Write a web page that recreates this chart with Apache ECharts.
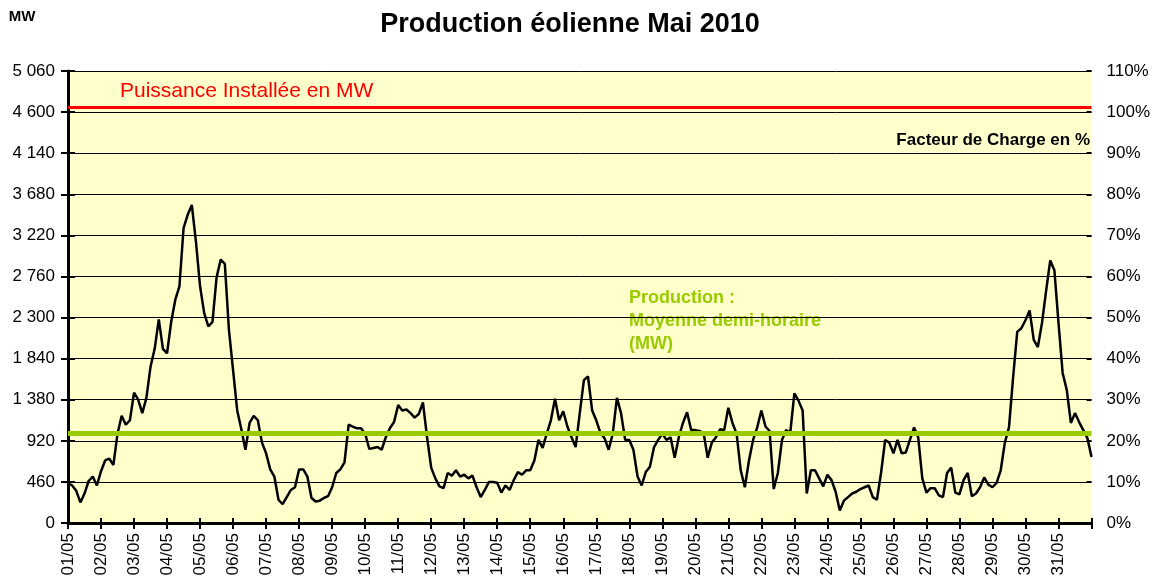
<!DOCTYPE html>
<html>
<head>
<meta charset="utf-8">
<script src="https://cdn.jsdelivr.net/npm/echarts@6/dist/echarts.min.js"></script>
<style>
  html, body { margin: 0; padding: 0; background: #fff; }
  #chart { width: 1153px; height: 586px; }
</style>
</head>
<body>
<div id="chart"></div>
<script>
// day labels on the x axis (one per day of May 2010)
var dayLabels = [];
for (var d = 1; d <= 31; d++) {
  dayLabels.push((d < 10 ? '0' + d : '' + d) + '/05');
}

// production, one value every 3 hours (MW)
var production = [
  448, 420, 360, 230, 330, 470, 520, 420,
  580, 700, 720, 650, 1000, 1200, 1100, 1150,
  1460, 1380, 1230, 1400, 1750, 1950, 2280, 1950,
  1900, 2250, 2500, 2650, 3300, 3450, 3560, 3150,
  2650, 2350, 2200, 2250, 2750, 2950, 2900, 2160,
  1710, 1260, 1050, 820, 1120, 1200, 1150, 900,
  780, 600, 520, 260, 210, 290, 370, 400,
  600, 600, 520, 280, 240, 250, 280, 300,
  400, 560, 600, 680, 1100, 1080, 1060, 1060,
  1000, 830, 840, 850, 820, 960, 1060, 1130,
  1320, 1260, 1270, 1230, 1180, 1220, 1350, 960,
  620, 500, 410, 390, 560, 530, 590, 520,
  540, 500, 530, 400, 290, 370, 460, 460,
  450, 340, 420, 370, 480, 570, 540, 590,
  590, 700, 930, 840, 1000, 1150, 1390, 1150,
  1250, 1080, 960, 850, 1230, 1600, 1640, 1260,
  1150, 1010, 950, 820, 1000, 1400, 1230, 930,
  930, 820, 520, 420, 570, 630, 850, 930,
  1000, 930, 960, 730, 960, 1120, 1240, 1040,
  1040, 1030, 1010, 730, 900, 960, 1050, 1040,
  1290, 1120, 1000, 590, 400, 700, 930, 1070,
  1260, 1080, 1030, 380, 560, 930, 1040, 1010,
  1450, 1370, 1260, 330, 590, 590, 500, 410,
  540, 480, 350, 140, 250, 290, 330, 350,
  380, 400, 420, 290, 260, 560, 930, 900,
  780, 930, 780, 790, 930, 1070, 960, 500,
  340, 390, 390, 310, 290, 560, 620, 340,
  320, 480, 560, 300, 330, 400, 510, 430,
  400, 450, 590, 900, 1070, 1630, 2140, 2180,
  2270, 2380, 2050, 1970, 2240, 2600, 2940, 2830,
  2240, 1680, 1490, 1120, 1230, 1130, 1040, 950, 740
];
var stepsPerDay = 8;

var installedMW = 4650;   // red line
var averageMW = 1000;     // green line

var mwTicks = { min: 0, max: 5060, interval: 460 };
var pctTicks = { min: 0, max: 110, interval: 10 };

var font = 'Liberation Sans, Arial, sans-serif';

function fmtMW(v) {
  var s = String(v);
  if (s.length > 3) s = s.slice(0, s.length - 3) + ' ' + s.slice(s.length - 3);
  return s;
}

var points = production.map(function (v, i) { return [i / stepsPerDay, v]; });

var chart = echarts.init(document.getElementById('chart'));

var option = {
  backgroundColor: '#ffffff',
  animation: false,
  grid: {
    left: 68, right: 61, top: 71, bottom: 63,
    show: true, backgroundColor: '#FFFFCC', borderWidth: 0
  },
  xAxis: [{
    type: 'value', min: 0, max: 31, interval: 1,
    axisLine: { lineStyle: { color: '#000', width: 3 } },
    axisTick: { inside: false, length: 6, lineStyle: { color: '#000', width: 2 } },
    splitLine: { show: false },
    axisLabel: {
      rotate: 90, color: '#000', fontSize: 17, fontFamily: font, margin: 10,
      formatter: function (v) { return v < 31 ? dayLabels[v] : ''; }
    }
  }, {
    type: 'value', min: 0, max: 31, interval: 1, position: 'bottom',
    axisLine: { show: false },
    axisTick: { inside: true, length: 5, lineStyle: { color: '#000', width: 2 } },
    splitLine: { show: false }, axisLabel: { show: false }
  }],
  yAxis: [{
    type: 'value', min: mwTicks.min, max: mwTicks.max, interval: mwTicks.interval,
    position: 'left',
    axisLine: { show: true, lineStyle: { color: '#000', width: 3 } },
    axisTick: { show: true, inside: false, length: 7, lineStyle: { color: '#000', width: 2 } },
    splitLine: { show: true, lineStyle: { color: '#000', width: 1 } },
    axisLabel: { color: '#000', fontSize: 17, fontFamily: font, margin: 13, formatter: fmtMW }
  }, {
    type: 'value', min: pctTicks.min, max: pctTicks.max, interval: pctTicks.interval,
    position: 'right',
    axisLine: { show: true, lineStyle: { color: '#000', width: 2 } },
    axisTick: { show: true, inside: false, length: 7, lineStyle: { color: '#000', width: 2 } },
    splitLine: { show: false },
    axisLabel: { color: '#000', fontSize: 17, fontFamily: font, margin: 15, formatter: '{value}%' }
  }, {
    type: 'value', min: mwTicks.min, max: mwTicks.max, interval: mwTicks.interval,
    position: 'left', axisLine: { show: false },
    axisTick: { show: true, inside: true, length: 5, lineStyle: { color: '#000', width: 2 } },
    splitLine: { show: false }, axisLabel: { show: false }
  }, {
    type: 'value', min: pctTicks.min, max: pctTicks.max, interval: pctTicks.interval,
    position: 'right', axisLine: { show: false },
    axisTick: { show: true, inside: true, length: 5, lineStyle: { color: '#000', width: 2 } },
    splitLine: { show: false }, axisLabel: { show: false }
  }],
  series: [{
    name: 'Production',
    type: 'line',
    xAxisIndex: 0, yAxisIndex: 0,
    data: points,
    showSymbol: false,
    lineStyle: { color: '#000', width: 2.5 },
    markLine: {
      symbol: 'none', silent: true, label: { show: false },
      data: [
        { yAxis: installedMW, lineStyle: { color: '#FF0000', width: 3, type: 'solid' } },
        { yAxis: averageMW, lineStyle: { color: '#99CC00', width: 5, type: 'solid' } }
      ]
    }
  }],
  graphic: [
    { type: 'text', x: 570, y: 25,
      style: { text: 'Production éolienne Mai 2010', fontSize: 27, fontWeight: 'bold', fontFamily: font, fill: '#000',
               textAlign: 'center', textVerticalAlign: 'middle' } },
    { type: 'text', x: 22, y: 17,
      style: { text: 'MW', fontSize: 15, fontWeight: 'bold', fontFamily: font, fill: '#000',
               textAlign: 'center', textVerticalAlign: 'middle' } },
    { type: 'text', x: 120, y: 91,
      style: { text: 'Puissance Installée en MW', fontSize: 21, fontFamily: font, fill: '#FF0000',
               textVerticalAlign: 'middle' } },
    { type: 'text', x: 1090, y: 140,
      style: { text: 'Facteur de Charge en %', fontSize: 17, fontWeight: 'bold', fontFamily: font, fill: '#000',
               textAlign: 'right', textVerticalAlign: 'middle' } },
    { type: 'text', x: 629, y: 287,
      style: { text: 'Production :\nMoyenne demi-horaire\n(MW)', fontSize: 18, lineHeight: 23, fontWeight: 'bold', fontFamily: font, fill: '#99CC00' } }
  ]
};

chart.setOption(option);
</script>
</body>
</html>
